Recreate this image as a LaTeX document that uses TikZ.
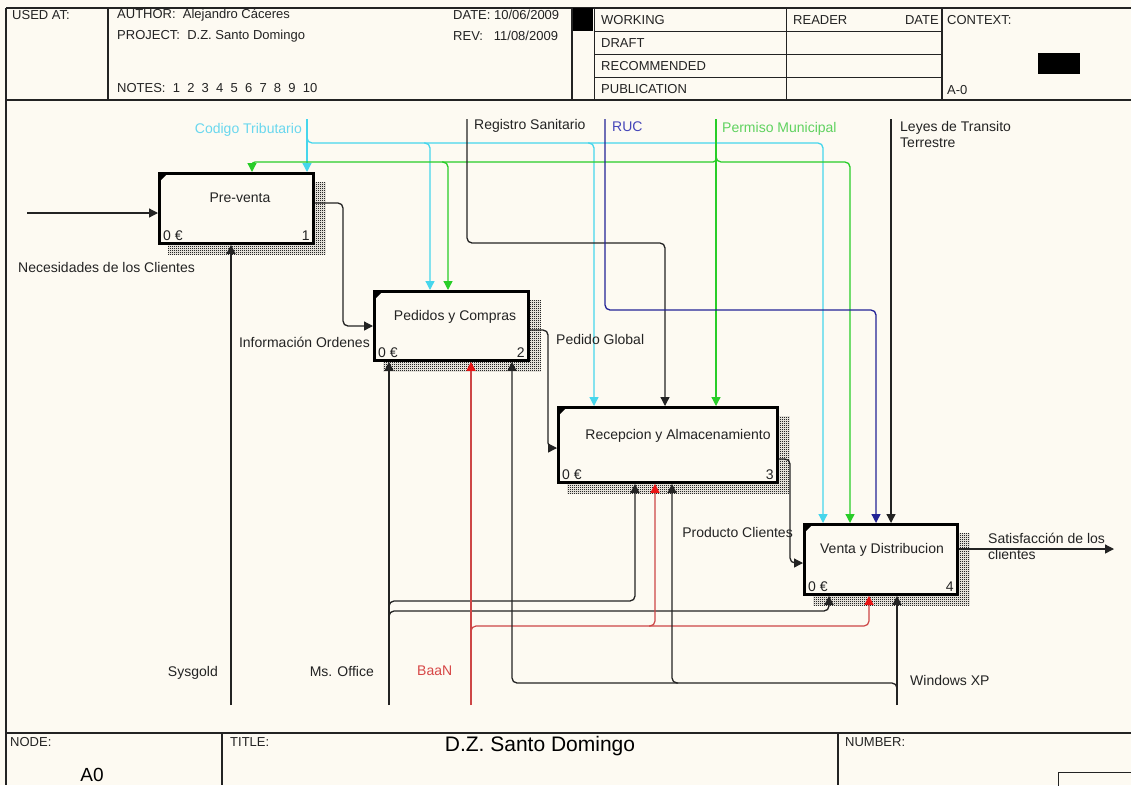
\documentclass[tikz,border=0pt]{standalone}
\usepackage{fontspec}
\setmainfont{Liberation Sans}
\usetikzlibrary{arrows.meta,patterns,calc}
\definecolor{bg}{RGB}{253,250,242}
\definecolor{ln}{RGB}{35,35,35}
\definecolor{cyL}{RGB}{70,214,236}
\definecolor{cyT}{RGB}{105,215,238}
\definecolor{grL}{RGB}{40,205,40}
\definecolor{grT}{RGB}{95,210,95}
\definecolor{nvL}{RGB}{35,35,150}
\definecolor{nvT}{RGB}{70,70,185}
\definecolor{rdL}{RGB}{205,70,70}
\definecolor{rdA}{RGB}{235,20,20}
\definecolor{rdT}{RGB}{215,70,70}
\pgfdeclarepatternformonly{chk}{\pgfpointorigin}{\pgfpoint{2pt}{2pt}}{\pgfpoint{2pt}{2pt}}{%
  \pgfpathrectangle{\pgfpointorigin}{\pgfpoint{1.2pt}{1.2pt}}%
  \pgfpathrectangle{\pgfpoint{1pt}{1pt}}{\pgfpoint{1.2pt}{1.2pt}}%
  \pgfusepath{fill}}
\newcommand\boxshadow[1]{%
  \fill[pattern=chk, pattern color=black!85]
    ($(#1.north east)+(0,10)$) -- ($(#1.north east)+(11,10)$) -- ($(#1.south east)+(11,10)$)
    -- ($(#1.south west)+(10,10)$) -- ($(#1.south west)+(10,0)$) -- (#1.south east) -- cycle;
  \fill[black] ($(#1.north west)+(1,1)$) -- ++(9,0) -- ++(-9,9) -- cycle;}
\begin{document}
\begin{tikzpicture}[x=1pt,y=-1pt,
  txt/.style={font=\fontsize{14}{16}\selectfont, inner sep=0pt, text=ln},
  htxt/.style={font=\fontsize{13}{15}\selectfont, inner sep=0pt, text=ln},
  fbox/.style={draw=black, line width=2.8pt, fill=bg, inner sep=0pt, anchor=north west},
  frm/.style={draw=ln, line width=1.4pt},
  thin/.style={draw=ln, line width=1pt},
  conn/.style={line width=1.3pt, rounded corners=5pt, -{Triangle[length=9pt,width=9pt]}},
  blk/.style={conn, draw=ln},
  cy/.style={conn, draw=cyL},
  gr/.style={conn, draw=grL},
  nv/.style={conn, draw=nvL},
  rd/.style={line width=1.2pt, rounded corners=5pt, draw=rdL, -{Triangle[length=9pt,width=9pt,color=rdA]}}]
\fill[bg] (0,0) rectangle (1131,785);
\useasboundingbox (0,0) rectangle (1131,785);

% ---------- frame & header ----------
\draw[frm] (6,8) -- (1131,8);
\draw[frm] (6,8) -- (6,785);
\draw[frm] (6,100) -- (1131,100);
\draw[frm] (108,8) -- (108,100);
\draw[frm] (572,8) -- (572,100);
\draw[thin] (594,8) -- (594,100);
\draw[thin] (786,8) -- (786,100);
\draw[frm] (942,8) -- (942,100);
\draw[thin] (594,31) -- (942,31);
\draw[thin] (594,54) -- (942,54);
\draw[thin] (594,77) -- (942,77);
\fill[black] (573,8) rectangle (593,31);
\fill[black] (1038,53) rectangle (1080,74);

\node[htxt, anchor=west] (usedat) at (12,15) {USED AT:};
\node[htxt, anchor=west] (author) at (117,15) {AUTHOR:\ \ Alejandro Cáceres};
\node[htxt, anchor=west] (project) at (117,36) {PROJECT:\ \ D.Z. Santo Domingo};
\node[htxt, anchor=west] (notes) at (117,88) {NOTES:\ \ 1\ \ 2\ \ 3\ \ 4\ \ 5\ \ 6\ \ 7\ \ 8\ \ 9\ \ 10};
\node[htxt, anchor=west] (date) at (453,15) {DATE: 10/06/2009};
\node[htxt, anchor=west] (rev) at (453,36) {REV:\ \ \ 11/08/2009};
\node[htxt, anchor=west] (working) at (601,20) {WORKING};
\node[htxt, anchor=west] (draft) at (601,43) {DRAFT};
\node[htxt, anchor=west] (recom) at (601,66) {RECOMMENDED};
\node[htxt, anchor=west] (publ) at (601,89) {PUBLICATION};
\node[htxt, anchor=west] (reader) at (793,20) {READER};
\node[htxt, anchor=east] (rdate) at (939,20) {DATE};
\node[htxt, anchor=west] (context) at (947,20) {CONTEXT:};
\node[htxt, anchor=west] (a0ctx) at (947,90) {A-0};

% ---------- bottom block ----------
\draw[frm] (6,733) -- (1131,733);
\draw[frm] (222,733) -- (222,785);
\draw[frm] (838,733) -- (838,785);
\draw[thin] (1058,786) -- (1058,772) -- (1132,772);
\node[htxt, anchor=west] (nodel) at (10,742) {NODE:};
\node[font=\fontsize{19}{21}\selectfont, inner sep=0pt, text=black] (a0) at (92,775) {A0};
\node[htxt, anchor=west] (titlel) at (230,742) {TITLE:};
\node[font=\fontsize{21}{23}\selectfont, inner sep=0pt, text=black] (title) at (540,746) {D.Z. Santo Domingo};
\node[htxt, anchor=west] (numl) at (845,742) {NUMBER:};

% ---------- activity boxes ----------
\node[fbox, minimum width=154pt, minimum height=70pt] (b1) at (158,172) {};
\node[fbox, minimum width=154pt, minimum height=69pt] (b2) at (373,290) {};
\node[fbox, minimum width=219pt, minimum height=75pt] (b3) at (557,406) {};
\node[fbox, minimum width=153pt, minimum height=70pt] (b4) at (803,523) {};
\boxshadow{b1}\boxshadow{b2}\boxshadow{b3}\boxshadow{b4}

\node[txt] (t1) at (240,198) {Pre-venta};
\node[txt] (t2) at (455,317) {Pedidos y Compras};
\node[txt] (t3) at (678,436) {Recepcion y Almacenamiento};
\node[txt] (t4) at (882,550) {Venta y Distribucion};
\foreach \b/\n in {b1/1,b2/2,b3/3,b4/4}{
  \node[txt, anchor=west] at ($(\b.south west)+(5,-9)$) {0 €};
  \node[txt, anchor=east] at ($(\b.south east)+(-5,-9)$) {\n};
}

% ---------- free ends ----------
\coordinate (nec) at (27,213);
\coordinate (ctT) at (307,119);
\coordinate (rsT) at (467,119);
\coordinate (rucT) at (605,119);
\coordinate (pmT) at (716,119);
\coordinate (lyT) at (891,119);
\coordinate (sgB) at (231,705);
\coordinate (moB) at (389,705);
\coordinate (bnB) at (471,705);
\coordinate (wxB) at (897,705);
\coordinate (outE) at (1114,549);

% ---------- inputs / outputs ----------
\draw[blk] (nec) -- (nec -| b1.west);
\coordinate (c12) at (343,203); \coordinate (c12b) at (343,326);
\draw[blk] (b1.east |- c12) -- (c12) -- (c12b) -- (b2.west |- c12b);
\coordinate (c23) at (548,330); \coordinate (c23b) at (548,448);
\draw[blk] (b2.east |- c23) -- (c23) -- (c23b) -- (b3.west |- c23b);
\coordinate (c34) at (790,459); \coordinate (c34b) at (790,563);
\draw[blk] (b3.east |- c34) -- (c34) -- (c34b) -- (b4.west |- c34b);
\draw[blk] (b4.east |- outE) -- (outE);

% ---------- controls ----------
\draw[cy] (ctT) -- (ctT |- b1.north);
\coordinate (cyH) at (823,143);
\draw[cy] ($(ctT |- cyH)+(0,-7)$) -- (ctT |- cyH) -- (cyH) -- (cyH |- b4.north);
\coordinate (cy2) at (430,143); \coordinate (cy3) at (594,143);
\draw[cy] ($(cy2)+(-6,0)$) -- (cy2) -- (cy2 |- b2.north);
\draw[cy] ($(cy3)+(-6,0)$) -- (cy3) -- (cy3 |- b3.north);

\draw[gr] (pmT) -- (pmT |- b3.north);
\coordinate (gL) at (252,162); \coordinate (gR) at (850,162); \coordinate (g2) at (448,162);
\draw[gr, rounded corners=3pt] ($(pmT |- gL)+(0,-6)$) -- (pmT |- gL) -- (gL) -- (gL |- b1.north);
\draw[gr] ($(pmT |- gR)+(0,-6)$) -- (pmT |- gR) -- (gR) -- (gR |- b4.north);
\draw[gr] ($(g2)+(-6,0)$) -- (g2) -- (g2 |- b2.north);

\coordinate (rsC) at (665,243);
\draw[blk] (rsT) -- (rsT |- rsC) -- (rsC) -- (rsC |- b3.north);
\coordinate (rucC) at (876,310);
\draw[nv] (rucT) -- (rucT |- rucC) -- (rucC) -- (rucC |- b4.north);
\draw[blk] (lyT) -- (lyT |- b4.north);

% ---------- mechanisms ----------
\draw[blk] (sgB) -- (sgB |- b1.south);
\draw[blk] (moB) -- (moB |- b2.south);
\coordinate (mo3) at (635,601); \coordinate (mo4) at (829,611);
\draw[blk] ($(moB |- mo3)+(0,6)$) -- (moB |- mo3) -- (mo3) -- (mo3 |- b3.south);
\draw[blk] ($(moB |- mo4)+(0,6)$) -- (moB |- mo4) -- (mo4) -- (mo4 |- b4.south);
\draw[rd] (bnB) -- (bnB |- b2.south);
\coordinate (bn3) at (655,626); \coordinate (bn4) at (869,626);
\draw[rd] ($(bnB |- bn4)+(0,6)$) -- (bnB |- bn4) -- (bn4) -- (bn4 |- b4.south);
\draw[rd] ($(bn3)+(-6,0)$) -- (bn3) -- (bn3 |- b3.south);
\draw[blk] (wxB) -- (wxB |- b4.south);
\coordinate (wx2) at (512,683); \coordinate (wx3) at (672,683);
\draw[blk] ($(wxB |- wx2)+(0,6)$) -- (wxB |- wx2) -- (wx2) -- (wx2 |- b2.south);
\draw[blk] ($(wx3)+(6,0)$) -- (wx3) -- (wx3 |- b3.south);

% ---------- labels ----------
\node[txt, text=cyT, anchor=east] (lct) at (302,130) {Codigo Tributario};
\node[txt, anchor=west] (lrs) at (474,126) {Registro Sanitario};
\node[txt, text=nvT, anchor=west] (lruc) at (612,127) {RUC};
\node[txt, text=grT, anchor=west] (lpm) at (722,129) {Permiso Municipal};
\node[txt, anchor=north west, align=left] (lly) at (900,121) {Leyes de Transito\\Terrestre};
\node[txt, anchor=west] (lnec) at (18,267) {Necesidades de los Clientes};
\node[txt, anchor=east] (lio) at (370,342) {Información Ordenes};
\node[txt, anchor=west] (lpg) at (556,339) {Pedido Global};
\node[txt, anchor=east] (lpc) at (793,532) {Producto Clientes};
\node[txt, anchor=north west, align=left] (lsat) at (988,533) {Satisfacción de los\\clientes};
\node[txt, anchor=east] (lsg) at (218,673) {Sysgold};
\node[txt, anchor=east] (lmo) at (374,671) {Ms. Office};
\node[txt, text=rdT, anchor=west] (lbn) at (417,671) {BaaN};
\node[txt, anchor=west] (lwx) at (910,680) {Windows XP};
\end{tikzpicture}
\end{document}
